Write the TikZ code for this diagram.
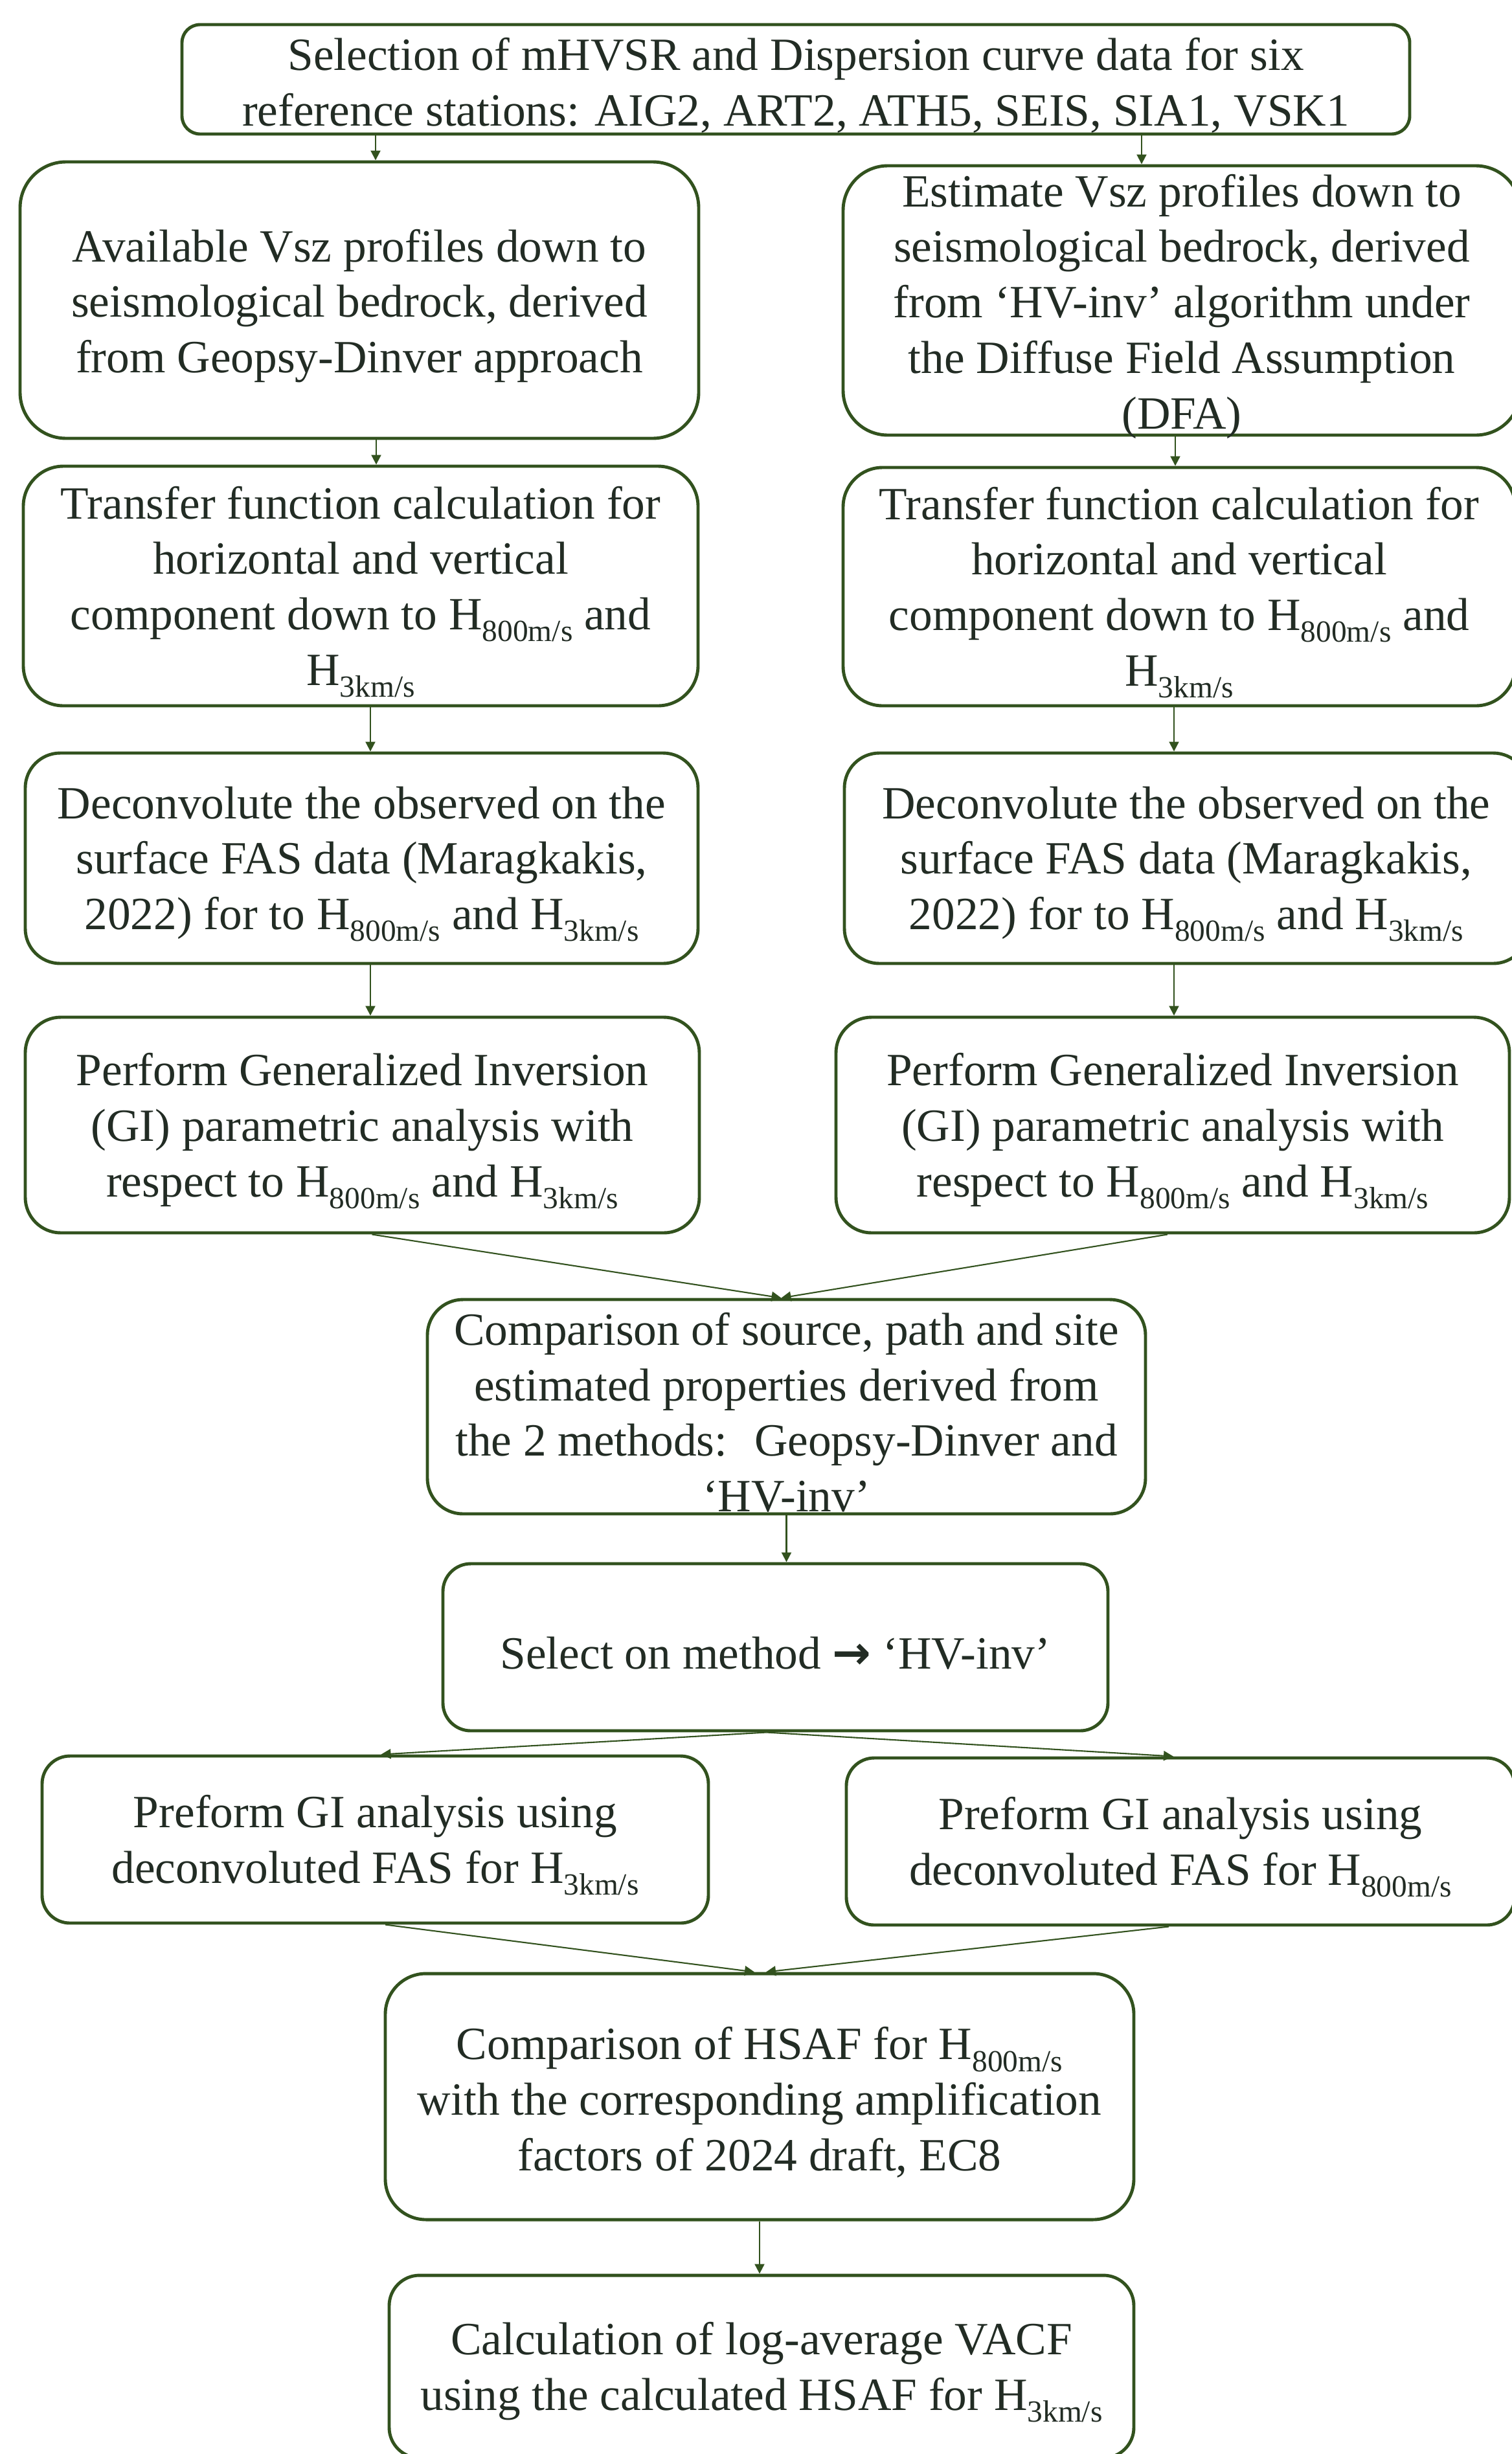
\documentclass[tikz,border=0pt]{standalone}
\usepackage{fontspec}
\setmainfont{Liberation Serif}
\newfontfamily\arrowfont{DejaVu Sans}
\usetikzlibrary{arrows.meta}
\definecolor{boxgreen}{RGB}{50,82,30}
\definecolor{txtgray}{RGB}{34,44,36}
\newcommand{\hsub}[1]{H\raisebox{-5.2pt}{\fontsize{13.5}{13.5}\selectfont #1}}

\begin{document}
\begin{tikzpicture}[
   box/.style={draw=boxgreen,line width=1.4pt,inner sep=0pt},
   txt/.style={align=center,text=txtgray,inner sep=0pt,yshift=-0.09cm,
               font=\fontsize{20.3}{24.4}\selectfont},
   arr/.style={-{Triangle[length=1.5mm,width=1.5mm]},color=boxgreen,line width=0.6pt}
 ]
  \useasboundingbox (0,0) rectangle (23.34,-37.90);
  % boxes
  \node[box,minimum width=18.96cm,minimum height=1.69cm,rounded corners=0.28cm] (sel) at (12.29,-1.225) {};
  \node[box,minimum width=10.48cm,minimum height=4.27cm,rounded corners=0.71cm] (avail) at (5.55,-4.635) {};
  \node[box,minimum width=10.46cm,minimum height=4.16cm,rounded corners=0.69cm] (est) at (18.25,-4.64) {};
  \node[box,minimum width=10.42cm,minimum height=3.70cm,rounded corners=0.62cm] (tfL) at (5.57,-9.05) {};
  \node[box,minimum width=10.38cm,minimum height=3.68cm,rounded corners=0.61cm] (tfR) at (18.21,-9.06) {};
  \node[box,minimum width=10.39cm,minimum height=3.25cm,rounded corners=0.54cm] (decL) at (5.585,-13.255) {};
  \node[box,minimum width=10.56cm,minimum height=3.25cm,rounded corners=0.54cm] (decR) at (18.32,-13.255) {};
  \node[box,minimum width=10.41cm,minimum height=3.33cm,rounded corners=0.55cm] (giL) at (5.595,-17.375) {};
  \node[box,minimum width=10.40cm,minimum height=3.33cm,rounded corners=0.55cm] (giR) at (18.11,-17.375) {};
  \node[box,minimum width=11.09cm,minimum height=3.31cm,rounded corners=0.55cm] (comp) at (12.145,-21.725) {};
  \node[box,minimum width=10.27cm,minimum height=2.58cm,rounded corners=0.43cm] (selm) at (11.975,-25.44) {};
  \node[box,minimum width=10.29cm,minimum height=2.58cm,rounded corners=0.43cm] (pgiL) at (5.795,-28.41) {};
  \node[box,minimum width=10.32cm,minimum height=2.58cm,rounded corners=0.43cm] (pgiR) at (18.23,-28.44) {};
  \node[box,minimum width=11.56cm,minimum height=3.80cm,rounded corners=0.63cm] (hsaf) at (11.73,-32.38) {};
  \node[box,minimum width=11.50cm,minimum height=2.82cm,rounded corners=0.47cm] (vacf) at (11.76,-36.55) {};
  % texts
  \node[txt] at (sel) {Selection of mHVSR and Dispersion curve data for six\\reference stations: AIG2, ART2, ATH5, SEIS, SIA1, VSK1};
  \node[txt] at (avail) {Available Vsz profiles down to\\seismological bedrock, derived\\from Geopsy-Dinver approach};
  \node[txt] at (est) {Estimate Vsz profiles down to\\seismological bedrock, derived\\from ‘HV-inv’ algorithm under\\the Diffuse Field Assumption\\(DFA)};
  \node[txt] at (tfL) {Transfer function calculation for\\horizontal and vertical\\component down to \hsub{800m/s} and\\\hsub{3km/s}};
  \node[txt] at (tfR) {Transfer function calculation for\\horizontal and vertical\\component down to \hsub{800m/s} and\\\hsub{3km/s}};
  \node[txt] at (decL) {Deconvolute the observed on the\\surface FAS data (Maragkakis,\\2022) for to \hsub{800m/s} and \hsub{3km/s}};
  \node[txt] at (decR) {Deconvolute the observed on the\\surface FAS data (Maragkakis,\\2022) for to \hsub{800m/s} and \hsub{3km/s}};
  \node[txt] at (giL) {Perform Generalized Inversion\\(GI) parametric analysis with\\respect to \hsub{800m/s} and \hsub{3km/s}};
  \node[txt] at (giR) {Perform Generalized Inversion\\(GI) parametric analysis with\\respect to \hsub{800m/s} and \hsub{3km/s}};
  \node[txt] at (comp) {Comparison of source, path and site\\estimated properties derived from\\the 2 methods:~ Geopsy-Dinver and\\‘HV-inv’};
  \node[txt] at (selm) {Select on method {\arrowfont\bfseries →} ‘HV-inv’};
  \node[txt] at (pgiL) {Preform GI analysis using\\deconvoluted FAS for \hsub{3km/s}};
  \node[txt] at (pgiR) {Preform GI analysis using\\deconvoluted FAS for \hsub{800m/s}};
  \node[txt] at (hsaf) {Comparison of HSAF for \hsub{800m/s}\\with the corresponding amplification\\factors of 2024 draft, EC8};
  \node[txt] at (vacf) {Calculation of log-average VACF\\using the calculated HSAF for \hsub{3km/s}};
  % connectors
  \draw[arr] ([xshift=0.25cm]avail.north |- sel.south) -- ([xshift=0.25cm]avail.north);
  \draw[arr] ([xshift=-0.62cm]est.north |- sel.south) -- ([xshift=-0.62cm]est.north);
  \draw[arr] ([xshift=0.26cm]avail.south) -- ([xshift=0.26cm]avail.south |- tfL.north);
  \draw[arr] ([xshift=-0.10cm]est.south) -- ([xshift=-0.10cm]est.south |- tfR.north);
  \draw[arr] ([xshift=0.15cm]tfL.south) -- ([xshift=0.15cm]tfL.south |- decL.north);
  \draw[arr] ([xshift=-0.08cm]tfR.south) -- ([xshift=-0.08cm]tfR.south |- decR.north);
  \draw[arr] ([xshift=0.135cm]decL.south) -- ([xshift=0.135cm]decL.south |- giL.north);
  \draw[arr] ([xshift=-0.19cm]decR.south) -- ([xshift=-0.19cm]decR.south |- giR.north);
  \draw[arr] ([xshift=0.15cm]giL.south) -- ([xshift=-0.08cm]comp.north);
  \draw[arr] ([xshift=-0.08cm]giR.south) -- ([xshift=-0.08cm]comp.north);
  \draw[arr] (comp.south) -- (comp.south |- selm.north);
  \draw[arr] ([xshift=-0.14cm]selm.south) -- ([xshift=0.09cm]pgiL.north);
  \draw[arr] ([xshift=-0.14cm]selm.south) -- ([xshift=-0.11cm]pgiR.north);
  \draw[arr] ([xshift=0.155cm]pgiL.south) -- ([xshift=-0.08cm]hsaf.north);
  \draw[arr] ([xshift=-0.18cm]pgiR.south) -- ([xshift=0.1cm]hsaf.north);
  \draw[arr] (hsaf.south) -- (hsaf.south |- vacf.north);
\end{tikzpicture}
\end{document}
